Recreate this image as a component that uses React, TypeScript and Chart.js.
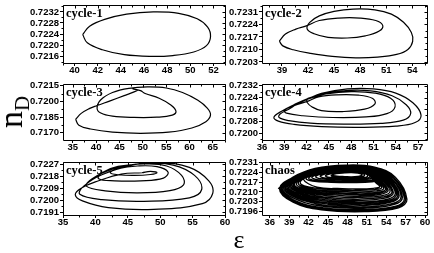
import React, { useEffect, useRef } from "react";
import { Chart, registerables } from "chart.js";

Chart.register(...registerables);

type Pt = [number, number];

// ---------------- data (epsilon, n_D) ----------------
const cycle1: Pt[] = [
  [40.7, 0.72238], [41.3, 0.72268], [42.6, 0.72293], [44.5, 0.72312], [46.8, 0.7232],
  [49.0, 0.72315], [50.6, 0.72295], [51.5, 0.72265], [51.75, 0.7223], [51.4, 0.72198],
  [50.3, 0.72175], [48.5, 0.72162], [46.5, 0.72159], [44.3, 0.72165], [42.4, 0.72183],
  [41.1, 0.72208], [40.7, 0.72238],
];

const cycle2: Pt[] = [
  [38.7, 0.72146], [39.4, 0.72186], [40.6, 0.72214], [41.8, 0.72232], [43.3, 0.72262],
  [45.5, 0.72276], [48.0, 0.72276], [49.8, 0.72262], [50.6, 0.72235], [50.2, 0.72203],
  [48.6, 0.72176], [46.5, 0.72164], [44.3, 0.72168], [42.7, 0.72188], [41.9, 0.72215],
  [42.2, 0.72252], [43.3, 0.72288], [45.0, 0.72313], [47.2, 0.72326], [49.7, 0.72322],
  [51.6, 0.72298], [53.0, 0.72252], [53.9, 0.72195], [54.05, 0.72145], [53.5, 0.721],
  [52.2, 0.72072], [50.0, 0.72057], [47.5, 0.72053], [44.8, 0.72061], [42.3, 0.72078],
  [40.3, 0.72098], [39.1, 0.7212], [38.7, 0.72146],
];

const cycle3: Pt[] = [
  [35.6, 0.71828], [36.8, 0.71885], [38.5, 0.7193], [40.2, 0.7196], [43.0, 0.72005],
  [46.0, 0.72055], [48.0, 0.72088], [48.9, 0.72108], [47.9, 0.72118], [49.5, 0.72102],
  [50.5, 0.72075], [53.5, 0.7203], [56.0, 0.71965], [57.1, 0.71905], [56.3, 0.71868],
  [53.0, 0.71848], [48.0, 0.71846], [43.5, 0.71858], [41.0, 0.71888], [40.2, 0.71935],
  [41.0, 0.72015], [43.5, 0.72085], [47.0, 0.72125], [51.0, 0.72138], [55.0, 0.72128],
  [58.5, 0.72085], [61.8, 0.7201], [63.8, 0.71935], [64.5, 0.7187], [63.5, 0.71805],
  [60.5, 0.71745], [55.5, 0.71705], [49.5, 0.71694], [43.5, 0.71705], [38.8, 0.71735],
  [36.3, 0.71772], [35.6, 0.71828],
];

const cycle4: Pt[] = [
  [42.0, 0.72228], [44.0, 0.72268], [47.5, 0.72298], [51.0, 0.72298], [54.0, 0.7227],
  [56.3, 0.72205], [57.4, 0.72122], [56.6, 0.72072], [54.0, 0.72048], [49.0, 0.7204],
  [44.0, 0.72045], [40.3, 0.7206], [38.2, 0.72082], [37.6, 0.72108], [38.7, 0.7215],
  [40.3, 0.72192],
  [42.1, 0.72232], [44.2, 0.72265], [47.3, 0.72287], [50.6, 0.72285], [53.5, 0.72252],
  [55.4, 0.72192], [56.0, 0.72132], [55.0, 0.72088], [52.0, 0.72067], [47.0, 0.72062],
  [42.5, 0.72068], [39.6, 0.72085], [38.3, 0.72106], [38.4, 0.72128], [39.6, 0.72162],
  [40.8, 0.72198],
  [42.3, 0.72232], [44.6, 0.72264], [48.0, 0.7228], [51.2, 0.7227], [53.3, 0.72235],
  [53.9, 0.72178], [52.8, 0.72132], [50.0, 0.7211], [45.5, 0.72106], [41.5, 0.72118],
  [39.3, 0.72135], [39.0, 0.72155], [40.3, 0.72185],
  [42.3, 0.72218], [43.6, 0.72245], [46.0, 0.72258], [49.0, 0.72256], [50.9, 0.72234],
  [51.2, 0.72198], [49.8, 0.72162], [46.8, 0.72146], [44.0, 0.72152], [42.7, 0.72178],
  [42.1, 0.72205], [42.0, 0.72228],
];

const cycle5: Pt[] = [
  [47.2, 0.72205], [48.5, 0.72215], [49.5, 0.72205], [48.5, 0.72192], [46.0, 0.72185],
  [43.5, 0.7219], [42.3, 0.72205], [43.5, 0.72235], [46.5, 0.72255], [49.5, 0.7225],
  [51.2, 0.7221], [50.5, 0.72165], [47.0, 0.72145], [43.0, 0.72145], [40.5, 0.7216],
  [41.0, 0.72205], [43.5, 0.72252], [47.5, 0.7227], [51.0, 0.72255], [53.3, 0.72185],
  [53.6, 0.72115], [51.5, 0.72072], [46.5, 0.72055], [41.5, 0.7207], [38.6, 0.72105],
  [39.5, 0.7216], [42.5, 0.7223], [47.5, 0.72275], [52.0, 0.72262], [55.3, 0.72185],
  [56.4, 0.7208], [54.5, 0.72018], [47.5, 0.71992], [41.0, 0.72005], [37.6, 0.72045],
  [38.2, 0.72105], [41.0, 0.7219], [46.0, 0.72265], [49.5, 0.72282], [54.5, 0.72245],
  [57.5, 0.72145], [58.1, 0.7205], [56.5, 0.71975], [49.0, 0.71932], [42.0, 0.71945],
  [38.0, 0.71995], [36.9, 0.7204], [37.8, 0.7209], [40.5, 0.72145], [44.0, 0.72195],
  [47.2, 0.72205],
];

const chaos: Pt[] = [
  [37.3, 0.72122], [39.6, 0.72205], [43.0, 0.72266], [47.8, 0.7229], [52.2, 0.72276], [55.4, 0.72205], [57.2, 0.72048], [55.9, 0.71988], [50.6, 0.71961], [44.0, 0.71974], [39.6, 0.72028],
  [37.5, 0.72125], [39.8, 0.72207], [43.2, 0.72266], [47.9, 0.72288], [52.1, 0.72274], [55.2, 0.72201], [57.0, 0.72052], [55.7, 0.71994], [50.5, 0.71968], [44.1, 0.71981], [39.8, 0.72033],
  [37.6, 0.72126], [39.9, 0.72208], [43.3, 0.72265], [47.9, 0.72287], [52.0, 0.72272], [55.1, 0.72198], [56.8, 0.72055], [55.5, 0.71999], [50.4, 0.71975], [44.3, 0.71988], [39.9, 0.72039],
  [37.8, 0.72128], [40.1, 0.72206], [43.5, 0.72262], [48.0, 0.72284], [51.9, 0.72268], [54.9, 0.72193], [56.5, 0.72063], [55.1, 0.7201], [50.2, 0.71984], [44.6, 0.71996], [40.1, 0.72047],
  [37.9, 0.7213], [40.2, 0.72208], [43.7, 0.72261], [48.0, 0.72282], [51.8, 0.72266], [54.8, 0.72191], [56.3, 0.72068], [54.9, 0.72017], [50.1, 0.71993], [44.8, 0.72004], [40.3, 0.72054],
  [38.1, 0.72132], [40.3, 0.72209], [43.9, 0.7226], [48.1, 0.7228], [51.7, 0.72264], [54.6, 0.72188], [56.0, 0.72073], [54.6, 0.72026], [50.0, 0.72003], [45.0, 0.72013], [40.5, 0.7206],
  [38.3, 0.72134], [40.5, 0.7221], [44.0, 0.72259], [48.1, 0.72279], [51.6, 0.72262], [54.4, 0.72186], [55.8, 0.72079], [54.5, 0.72034], [49.9, 0.72013], [45.2, 0.72022], [40.7, 0.72066],
  [38.4, 0.72135], [40.6, 0.72211], [44.1, 0.72258], [48.2, 0.72277], [51.5, 0.7226], [54.3, 0.72184], [55.6, 0.72084], [54.3, 0.72041], [49.8, 0.72022], [45.3, 0.72031], [40.9, 0.72071],
  [38.6, 0.72137], [40.8, 0.72212], [44.3, 0.72257], [48.2, 0.72276], [51.4, 0.72258], [54.1, 0.72182], [55.4, 0.72089], [54.1, 0.72048], [49.8, 0.7203], [45.5, 0.72039], [41.1, 0.72077],
  [38.8, 0.72139], [41.0, 0.72213], [44.4, 0.72256], [48.3, 0.72275], [51.4, 0.72257], [53.9, 0.7218], [55.1, 0.72094], [53.8, 0.72056], [49.7, 0.7204], [45.7, 0.72048], [41.3, 0.72084],
  [39.0, 0.72141], [41.1, 0.72214], [44.5, 0.72255], [48.3, 0.72274], [51.3, 0.72255], [53.7, 0.72177], [54.9, 0.72099], [53.6, 0.72065], [49.6, 0.7205], [45.9, 0.72057], [41.6, 0.7209],
  [39.2, 0.72143], [41.3, 0.72214], [44.7, 0.72253], [48.3, 0.72272], [51.2, 0.72253], [53.5, 0.72175], [54.6, 0.72105], [53.4, 0.72074], [49.6, 0.72061], [46.1, 0.72067], [41.8, 0.72097],
  [39.4, 0.72146], [41.5, 0.72215], [44.8, 0.72252], [48.4, 0.7227], [51.1, 0.7225], [53.3, 0.72172], [54.3, 0.7211], [53.1, 0.72083], [49.5, 0.72071], [46.3, 0.72077], [42.0, 0.72103],
  [39.6, 0.72148], [41.6, 0.72215], [44.9, 0.72251], [48.4, 0.72269], [51.0, 0.72249], [53.1, 0.72171], [54.1, 0.72114], [52.9, 0.72091], [49.5, 0.72081], [46.5, 0.72086], [42.2, 0.72108],
  [39.8, 0.7215], [41.8, 0.72216], [45.0, 0.7225], [48.4, 0.72268], [50.9, 0.72247], [53.0, 0.7217], [53.9, 0.72118], [52.8, 0.72099], [49.4, 0.72091], [46.6, 0.72095], [42.4, 0.72114],
  [40.1, 0.72153], [42.0, 0.72217], [45.1, 0.72249], [48.4, 0.72266], [50.8, 0.72245], [52.8, 0.72168], [53.6, 0.72124], [52.5, 0.72108], [49.4, 0.72101], [46.8, 0.72104], [42.7, 0.7212],
  [40.4, 0.72158], [42.2, 0.72218], [45.2, 0.72248], [48.4, 0.72265], [50.7, 0.72244], [52.6, 0.72166], [53.3, 0.7213], [52.2, 0.72117], [49.3, 0.72112], [47.0, 0.72114], [43.0, 0.72127],
  [40.7, 0.72162], [42.4, 0.72219], [45.3, 0.72247], [48.4, 0.72264], [50.6, 0.72243], [52.4, 0.72165], [53.0, 0.72136], [52.0, 0.72126], [49.3, 0.72122], [47.2, 0.72124], [43.3, 0.72134],
  [41.2, 0.7219], [42.6, 0.72222], [45.3, 0.7225], [48.4, 0.72262], [50.8, 0.7225], [52.6, 0.72218], [52.9, 0.72188], [51.8, 0.72172], [48.8, 0.72166], [45.5, 0.72168], [42.6, 0.72177],
  [41.6, 0.72194], [42.9, 0.72224], [45.5, 0.72248], [48.4, 0.72258], [50.7, 0.72249], [52.4, 0.72219], [52.6, 0.72192], [51.5, 0.72177], [48.8, 0.72171], [45.7, 0.72173], [42.9, 0.72182],
  [42.0, 0.72198], [43.2, 0.72225], [45.7, 0.72246], [48.4, 0.72255], [50.6, 0.72247], [52.1, 0.7222], [52.3, 0.72196], [51.2, 0.72182], [48.8, 0.72177], [45.9, 0.72179], [43.3, 0.72188],
  [42.5, 0.72203], [43.7, 0.72227], [46.0, 0.72243], [48.5, 0.72251], [50.4, 0.72244], [51.8, 0.72222], [51.9, 0.72201], [50.9, 0.7219], [48.7, 0.72185], [46.2, 0.72187], [43.8, 0.72194],
  [43.1, 0.72208], [44.3, 0.72229], [46.4, 0.7224], [48.5, 0.72247], [50.2, 0.72241], [51.4, 0.72223], [51.5, 0.72206], [50.6, 0.72196], [48.7, 0.72192], [46.6, 0.72194], [44.4, 0.722],
  [43.8, 0.72212], [44.9, 0.7223], [46.8, 0.72239], [48.6, 0.72243], [50.0, 0.72238], [51.0, 0.72224], [51.1, 0.7221], [50.3, 0.72201], [48.7, 0.72198], [47.0, 0.722], [45.0, 0.72205],
  [44.6, 0.72215], [45.6, 0.7223], [47.2, 0.72237], [48.6, 0.7224], [49.8, 0.72236], [50.6, 0.72225], [50.6, 0.72214], [49.9, 0.72206], [48.6, 0.72203], [47.3, 0.72205], [45.7, 0.72209],
  [45.5, 0.72217], [46.3, 0.72229], [47.6, 0.72235], [48.6, 0.72237], [49.6, 0.72234], [50.2, 0.72226], [50.2, 0.72217], [49.6, 0.7221], [48.6, 0.72207], [47.6, 0.72209], [46.4, 0.72212],
  [45.5, 0.72217],
];

const xTicks1 = [40, 42, 44, 46, 48, 50, 52];
const yTicks1 = [0.7216, 0.722, 0.7224, 0.7228, 0.7232];
const xTicks2 = [39, 42, 45, 48, 51, 54];
const yTicks2 = [0.7203, 0.721, 0.7217, 0.7224, 0.7231];
const xTicks3 = [35, 40, 45, 50, 55, 60, 65];
const yTicks3 = [0.717, 0.7185, 0.72, 0.7215];
const xTicks4 = [36, 39, 42, 45, 48, 51, 54, 57];
const yTicks4 = [0.72, 0.7208, 0.7216, 0.7224, 0.7232];
const xTicks5 = [35, 40, 45, 50, 55, 60];
const yTicks5 = [0.7191, 0.72, 0.7209, 0.7218, 0.7227];
const xTicks6 = [36, 39, 42, 45, 48, 51, 54, 57, 60];
const yTicks6 = [0.7196, 0.7203, 0.721, 0.7217, 0.7224, 0.7231];

const titles = ["cycle-1", "cycle-2", "cycle-3", "cycle-4", "cycle-5", "chaos"];

// ---------------- layout ----------------
type PanelCfg = {
  title: string;
  data: Pt[];
  xr: [number, number];
  yr: [number, number];
  xTicks: number[];
  yTicks: number[];
  lw: number;
  box: [number, number, number, number]; // left, top, right, bottom (px)
};

const panels: PanelCfg[] = [
  { title: titles[0], data: cycle1, xr: [39, 53], yr: [0.72135, 0.72345], xTicks: xTicks1, yTicks: yTicks1, lw: 1.2, box: [63, 5, 225, 63] },
  { title: titles[1], data: cycle2, xr: [36.7, 55.7], yr: [0.72024, 0.72349], xTicks: xTicks2, yTicks: yTicks2, lw: 1.2, box: [262, 5, 427, 63] },
  { title: titles[2], data: cycle3, xr: [32.9, 67.6], yr: [0.7163, 0.72166], xTicks: xTicks3, yTicks: yTicks3, lw: 1.2, box: [63, 84, 225, 140] },
  { title: titles[3], data: cycle4, xr: [36, 58.2], yr: [0.71955, 0.72331], xTicks: xTicks4, yTicks: yTicks4, lw: 1.2, box: [262, 84, 427, 140] },
  { title: titles[4], data: cycle5, xr: [35, 60], yr: [0.7189, 0.72285], xTicks: xTicks5, yTicks: yTicks5, lw: 1.2, box: [63, 162, 225, 215] },
  { title: titles[5], data: chaos, xr: [34.8, 60.3], yr: [0.71937, 0.72312], xTicks: xTicks6, yTicks: yTicks6, lw: 1.3, box: [262, 162, 427, 215] },
];

const YW = 60;
const XH = 16;
const PT = 8;
const PR = 7;
const tickFont = { family: '"Liberation Sans", Arial, sans-serif', size: 9.5, weight: "bold" as const, lineHeight: 1 };

const framePlugin = {
  id: "frame",
  afterDraw(chart: any, _args: any, opts: any) {
    const { ctx, chartArea: a, scales } = chart;
    const L = Math.round(a.left) + 0.5;
    const T = Math.round(a.top) + 0.5;
    const R = Math.round(a.right) + 0.5;
    const B = Math.round(a.bottom) + 0.5;
    ctx.save();
    ctx.strokeStyle = "#000";
    ctx.lineWidth = 1;
    ctx.beginPath();
    ctx.rect(L, T, R - L, B - T);
    ctx.stroke();
    const xs = scales.x;
    const ys = scales.y;
    const xv: number[] = opts.xTicks;
    const yv: number[] = opts.yTicks;
    const xStep = xv[1] - xv[0];
    const yStep = yv[1] - yv[0];
    ctx.beginPath();
    for (let v = xv[0] - xStep; v <= xv[xv.length - 1] + xStep + 1e-9; v += xStep / 2) {
      if (v < xs.min || v > xs.max) continue;
      const major = xv.some((t) => Math.abs(t - v) < 1e-9);
      const px = Math.round(xs.getPixelForValue(v)) + 0.5;
      const len = major ? 3 : 2;
      ctx.moveTo(px, T);
      ctx.lineTo(px, T + len);
      if (!major) {
        ctx.moveTo(px, B);
        ctx.lineTo(px, B + 2);
      }
    }
    for (let v = yv[0] - yStep; v <= yv[yv.length - 1] + yStep + 1e-12; v += yStep / 2) {
      if (v < ys.min || v > ys.max) continue;
      const major = yv.some((t) => Math.abs(t - v) < 1e-9);
      const py = Math.round(ys.getPixelForValue(v)) + 0.5;
      const len = major ? 3 : 2;
      ctx.moveTo(R, py);
      ctx.lineTo(R - len, py);
      if (!major) {
        ctx.moveTo(L, py);
        ctx.lineTo(L - 2, py);
      }
    }
    ctx.stroke();
    ctx.fillStyle = "#000";
    ctx.font = 'bold 12.5px "Liberation Serif", "Times New Roman", serif';
    ctx.textAlign = "left";
    ctx.textBaseline = "alphabetic";
    ctx.fillText(opts.title, a.left + 3, a.top + 12);
    ctx.restore();
  },
};

function Panel({ cfg }: { cfg: PanelCfg }) {
  const ref = useRef<HTMLCanvasElement>(null);
  const [bl, bt, br, bb] = cfg.box;
  const left = bl - YW;
  const top = bt - PT;
  const width = YW + (br - bl) + PR;
  const height = PT + (bb - bt) + XH;

  useEffect(() => {
    const chart = new Chart(ref.current as HTMLCanvasElement, {
      type: "scatter",
      data: {
        datasets: [
          {
            data: cfg.data.map(([x, y]) => ({ x, y })),
            showLine: true,
            borderColor: "#000",
            borderWidth: cfg.lw,
            pointRadius: 0,
            tension: 0.4,
            fill: false,
          } as any,
        ],
      },
      options: {
        animation: false,
        responsive: false,
        maintainAspectRatio: false,
        events: [],
        layout: { padding: { top: PT, right: PR, left: 0, bottom: 0 } },
        plugins: {
          legend: { display: false },
          tooltip: { enabled: false },
          frame: { title: cfg.title, xTicks: cfg.xTicks, yTicks: cfg.yTicks },
        } as any,
        scales: {
          x: {
            type: "linear",
            min: cfg.xr[0],
            max: cfg.xr[1],
            afterBuildTicks: (s: any) => {
              s.ticks = cfg.xTicks.map((v) => ({ value: v }));
            },
            afterFit: (s: any) => {
              s.height = XH;
            },
            border: { display: false },
            grid: { drawOnChartArea: false, drawTicks: true, tickLength: 3, color: "#000", lineWidth: 1 },
            ticks: {
              autoSkip: false,
              maxRotation: 0,
              padding: 0,
              color: "#000",
              font: tickFont,
              callback: (v: any) => String(Math.round(Number(v))),
            },
          },
          y: {
            type: "linear",
            min: cfg.yr[0],
            max: cfg.yr[1],
            afterBuildTicks: (s: any) => {
              s.ticks = cfg.yTicks.map((v) => ({ value: v }));
            },
            afterFit: (s: any) => {
              s.width = YW;
            },
            border: { display: false },
            grid: { drawOnChartArea: false, drawTicks: true, tickLength: 3, color: "#000", lineWidth: 1 },
            ticks: {
              autoSkip: false,
              padding: 1,
              color: "#000",
              font: tickFont,
              callback: (v: any) => Number(v).toFixed(4),
            },
          },
        },
      },
      plugins: [framePlugin],
    });
    return () => chart.destroy();
  }, []);

  return (
    <canvas
      ref={ref}
      width={width}
      height={height}
      style={{ position: "absolute", left, top, width, height, display: "block" }}
    />
  );
}

export default function App() {
  return (
    <div
      style={{
        position: "fixed",
        left: 0,
        top: 0,
        width: 434,
        height: 253,
        overflow: "hidden",
        background: "#fff",
      }}
    >
      {panels.map((p) => (
        <Panel key={p.title} cfg={p} />
      ))}
      <div
        style={{
          position: "absolute",
          left: 11,
          top: 112,
          transform: "translate(-50%, -50%) rotate(-90deg)",
          fontFamily: '"Liberation Serif", "Times New Roman", serif',
          whiteSpace: "nowrap",
          lineHeight: 1,
          color: "#000",
        }}
      >
        <span style={{ fontSize: 34 }}>n</span>
        <span style={{ fontSize: 21, position: "relative", top: 7 }}>D</span>
      </div>
      <div
        style={{
          position: "absolute",
          left: 239,
          top: 240,
          transform: "translate(-50%, -50%)",
          fontFamily: '"Liberation Serif", "Times New Roman", serif',
          fontSize: 26,
          lineHeight: 1,
          color: "#000",
        }}
      >
        ε
      </div>
    </div>
  );
}
